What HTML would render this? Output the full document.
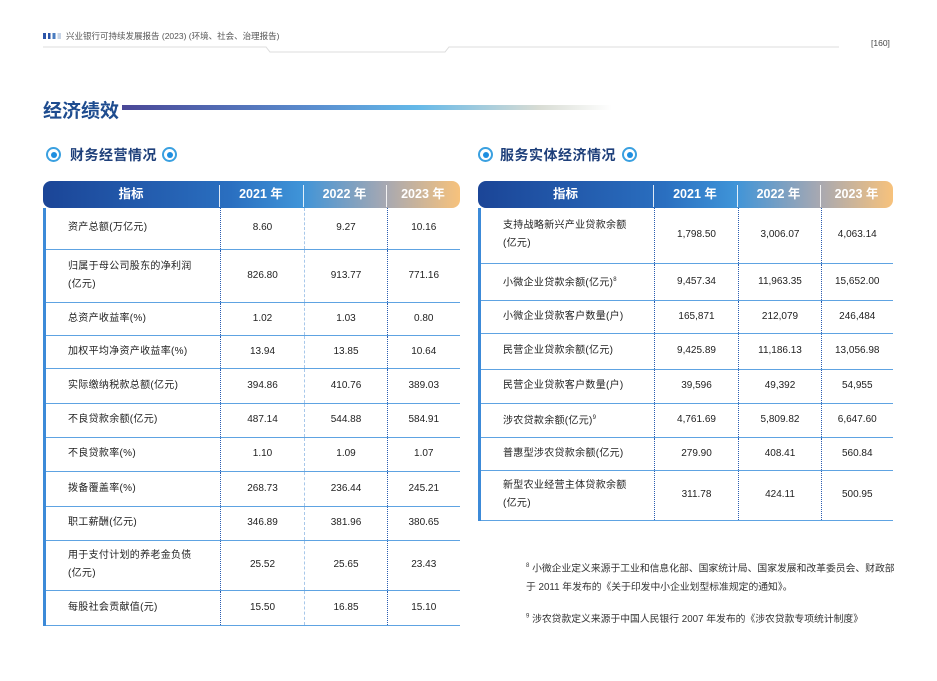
<!DOCTYPE html>
<html><head><meta charset="utf-8">
<style>
*{margin:0;padding:0;box-sizing:border-box}
body{width:937px;height:681px;background:#fff;position:relative;overflow:hidden;font-family:"Liberation Sans","Noto Sans CJK SC",sans-serif;color:#222}
.abs{position:absolute}
.hdr{position:absolute;height:27px;border-radius:8px;background:linear-gradient(90deg,#1b4597 0%,#2a6fc0 45%,#3f94d8 62%,#a6a8b2 82%,#f7c27c 100%);color:#fff;font-weight:bold;font-size:12.5px}
.hdr div{position:absolute;top:0;height:27px;line-height:27px;text-align:center}
.hdr .sep{width:1px;background:rgba(255,255,255,.85);top:4px;height:22px}
table{position:absolute;border-collapse:collapse;table-layout:fixed;font-size:10px}
td{border-bottom:1.5px solid #5ea3e2;text-align:center;vertical-align:middle;line-height:18px}
td.l{text-align:left;padding-left:22px;border-left:3px solid #3c8ad8;letter-spacing:.3px}
td.c1{border-left:1.5px dotted #2a5cb0}
td.c2{border-left:1px dashed #a8c8ea}
td.c3{border-left:1.5px dotted #2a5cb0}
.sub{position:absolute;top:145px;font-size:14px;font-weight:bold;color:#1e3f7a;letter-spacing:.5px}
.ic{position:absolute;width:15px;height:15px;border-radius:50%;border:2px solid #3aa0e0;top:147px}
.ic:after{content:"";position:absolute;left:2.5px;top:2.5px;width:6px;height:6px;border-radius:50%;background:#1e8ee0}
.fn{position:absolute;font-size:10px;color:#333;left:526px;white-space:nowrap}
</style></head><body>
<div class="abs" style="left:43px;top:33px;width:18px;height:6px;background:linear-gradient(90deg,#2b54a8,#2b54a8 16%,#fff 16%,#fff 27%,#2b54a8 27%,#2b54a8 43%,#fff 43%,#fff 54%,#4a7cc0 54%,#4a7cc0 70%,#fff 70%,#fff 81%,#c7d4e6 81%)"></div>
<div class="abs" style="left:66px;top:30px;font-size:8.5px;color:#555">兴业银行可持续发展报告 (2023) (环境、社会、治理报告)</div>
<svg class="abs" style="left:0;top:0" width="937" height="60"><polyline points="43,47 266,47 270,52 445,52 449,47 839,47" fill="none" stroke="#dcdcdc" stroke-width="1"/></svg>
<div class="abs" style="left:871px;top:38px;font-size:8.5px;color:#444">[160]</div>

<div class="abs" style="left:43px;top:96px;font-size:19px;font-weight:bold;color:#1e4c8f">经济绩效</div>
<div class="abs" style="left:122px;top:105px;width:490px;height:5px;background:linear-gradient(90deg,#4a4797,#5a8fd0 40%,#63b8e8 60%,#d8dcd4 85%,rgba(255,255,255,0))"></div>

<div class="ic" style="left:46px"></div>
<div class="sub" style="left:70px">财务经营情况</div>
<div class="ic" style="left:162px"></div>

<div class="ic" style="left:478px"></div>
<div class="sub" style="left:500px">服务实体经济情况</div>
<div class="ic" style="left:622px"></div>

<div class="hdr" style="left:43px;top:181px;width:417px">
<div style="left:0;width:176px">指标</div><div class="sep" style="left:176px"></div>
<div style="left:176px;width:84px">2021 年</div><div class="sep" style="left:260px"></div>
<div style="left:260px;width:83px">2022 年</div><div class="sep" style="left:343px"></div>
<div style="left:343px;width:74px">2023 年</div>
</div>
<table style="left:43px;top:208px;width:415px">
<colgroup><col style="width:176px"><col style="width:84px"><col style="width:83px"><col style="width:72px"></colgroup>
<tr style="height:41px"><td class="l">资产总额(万亿元)</td><td class="c1">8.60</td><td class="c2">9.27</td><td class="c3">10.16</td></tr>
<tr style="height:53px"><td class="l">归属于母公司股东的净利润<br>(亿元)</td><td class="c1">826.80</td><td class="c2">913.77</td><td class="c3">771.16</td></tr>
<tr style="height:33px"><td class="l">总资产收益率(%)</td><td class="c1">1.02</td><td class="c2">1.03</td><td class="c3">0.80</td></tr>
<tr style="height:33px"><td class="l">加权平均净资产收益率(%)</td><td class="c1">13.94</td><td class="c2">13.85</td><td class="c3">10.64</td></tr>
<tr style="height:35px"><td class="l">实际缴纳税款总额(亿元)</td><td class="c1">394.86</td><td class="c2">410.76</td><td class="c3">389.03</td></tr>
<tr style="height:34px"><td class="l">不良贷款余额(亿元)</td><td class="c1">487.14</td><td class="c2">544.88</td><td class="c3">584.91</td></tr>
<tr style="height:34px"><td class="l">不良贷款率(%)</td><td class="c1">1.10</td><td class="c2">1.09</td><td class="c3">1.07</td></tr>
<tr style="height:35px"><td class="l">拨备覆盖率(%)</td><td class="c1">268.73</td><td class="c2">236.44</td><td class="c3">245.21</td></tr>
<tr style="height:34px"><td class="l">职工薪酬(亿元)</td><td class="c1">346.89</td><td class="c2">381.96</td><td class="c3">380.65</td></tr>
<tr style="height:50px"><td class="l">用于支付计划的养老金负债<br>(亿元)</td><td class="c1">25.52</td><td class="c2">25.65</td><td class="c3">23.43</td></tr>
<tr style="height:35px"><td class="l">每股社会贡献值(元)</td><td class="c1">15.50</td><td class="c2">16.85</td><td class="c3">15.10</td></tr>
</table>

<div class="hdr" style="left:478px;top:181px;width:415px">
<div style="left:0;width:175px">指标</div><div class="sep" style="left:175px"></div>
<div style="left:175px;width:84px">2021 年</div><div class="sep" style="left:259px"></div>
<div style="left:259px;width:83px">2022 年</div><div class="sep" style="left:342px"></div>
<div style="left:342px;width:73px">2023 年</div>
</div>
<table style="left:478px;top:208px;width:413px">
<colgroup><col style="width:175px"><col style="width:84px"><col style="width:83px"><col style="width:71px"></colgroup>
<tr style="height:55px"><td class="l">支持战略新兴产业贷款余额<br>(亿元)</td><td class="c1">1,798.50</td><td class="c3">3,006.07</td><td class="c3">4,063.14</td></tr>
<tr style="height:37px"><td class="l">小微企业贷款余额(亿元)<sup style="font-size:6px">8</sup></td><td class="c1">9,457.34</td><td class="c3">11,963.35</td><td class="c3">15,652.00</td></tr>
<tr style="height:33px"><td class="l">小微企业贷款客户数量(户)</td><td class="c1">165,871</td><td class="c3">212,079</td><td class="c3">246,484</td></tr>
<tr style="height:36px"><td class="l">民营企业贷款余额(亿元)</td><td class="c1">9,425.89</td><td class="c3">11,186.13</td><td class="c3">13,056.98</td></tr>
<tr style="height:34px"><td class="l">民营企业贷款客户数量(户)</td><td class="c1">39,596</td><td class="c3">49,392</td><td class="c3">54,955</td></tr>
<tr style="height:34px"><td class="l">涉农贷款余额(亿元)<sup style="font-size:6px">9</sup></td><td class="c1">4,761.69</td><td class="c3">5,809.82</td><td class="c3">6,647.60</td></tr>
<tr style="height:33px"><td class="l">普惠型涉农贷款余额(亿元)</td><td class="c1">279.90</td><td class="c3">408.41</td><td class="c3">560.84</td></tr>
<tr style="height:50px"><td class="l">新型农业经营主体贷款余额<br>(亿元)</td><td class="c1">311.78</td><td class="c3">424.11</td><td class="c3">500.95</td></tr>
</table>

<div class="fn" style="top:557px;line-height:19px;font-size:9.8px"><sup style="font-size:6px">8</sup> 小微企业定义来源于工业和信息化部、国家统计局、国家发展和改革委员会、财政部<br>于 2011 年发布的《关于印发中小企业划型标准规定的通知》。</div>
<div class="fn" style="top:611px;font-size:9.8px"><sup style="font-size:6px">9</sup> 涉农贷款定义来源于中国人民银行 2007 年发布的《涉农贷款专项统计制度》</div>
</body></html>
